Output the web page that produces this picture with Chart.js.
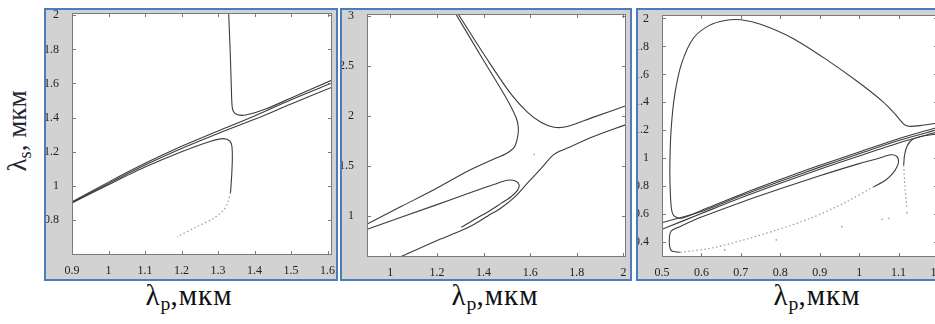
<!DOCTYPE html>
<html>
<head>
<meta charset="utf-8">
<script src="https://cdn.jsdelivr.net/npm/chart.js@4.4.1/dist/chart.umd.min.js"></script>
<style>
  html, body { margin: 0; padding: 0; background: #fff; width: 935px; height: 324px; overflow: hidden; }
  .panel { position: absolute; top: 8px; height: 269px; border: 2px solid #4a7ebb; background: #d2d2d2; }
  .panel canvas { display: block; }
  .xtitle { position: absolute; top: 281px; width: 200px; text-align: center; letter-spacing: 1px;
            font-family: "Liberation Serif", serif; font-size: 29px; line-height: 28px; color: #111; white-space: nowrap; }
  .xtitle sub, .ytitle sub { font-size: 0.68em; vertical-align: -0.25em; letter-spacing: 0; }
  .ytitle { position: absolute; left: 19px; top: 131px; transform: translate(-50%, -50%) rotate(-90deg);
            font-family: "Liberation Serif", serif; font-size: 27px; color: #262633; white-space: nowrap; }
</style>
</head>
<body>
<div class="panel" style="left:44px; width:290px;"><canvas id="c1" width="290" height="269"></canvas></div>
<div class="panel" style="left:340px; width:288px;"><canvas id="c2" width="288" height="269"></canvas></div>
<div class="panel" style="left:636px; width:310px;"><canvas id="c3" width="310" height="269"></canvas></div>
<div class="ytitle">λ<sub>s</sub>, мкм</div>
<div class="xtitle" style="left:89px;">λ<sub>p</sub>,мкм</div>
<div class="xtitle" style="left:395px;">λ<sub>p</sub>,мкм</div>
<div class="xtitle" style="left:717px;">λ<sub>p</sub>,мкм</div>
<script>
// ---- panel 1 ----
const p1XTicks = [0.9, 1, 1.1, 1.2, 1.3, 1.4, 1.5, 1.6];
const p1YTicks = [0.8, 1, 1.2, 1.4, 1.6, 1.8, 2];
const p1UpperX = [1.329, 1.333, 1.336, 1.338, 1.341, 1.352, 1.375, 1.43, 1.5, 1.612];
const p1UpperY = [2.013, 1.80, 1.60, 1.48, 1.44, 1.418, 1.415, 1.45, 1.515, 1.62];
const p1LineX = [0.9, 1.0, 1.1, 1.2, 1.3, 1.4, 1.5, 1.612];
const p1LineAY = [0.907, 1.022, 1.132, 1.232, 1.322, 1.41, 1.505, 1.603];
const p1LineBY = [0.903, 1.014, 1.122, 1.219, 1.307, 1.39, 1.48, 1.578];
const p1LowerX = [0.9, 1.0, 1.1, 1.2, 1.28, 1.315, 1.332, 1.338, 1.339, 1.337, 1.334];
const p1LowerY = [0.9, 1.007, 1.11, 1.2, 1.262, 1.277, 1.263, 1.23, 1.15, 1.05, 0.96];
const p1TailX = [1.334, 1.326, 1.315, 1.288, 1.242, 1.188];
const p1TailY = [0.96, 0.9, 0.858, 0.81, 0.761, 0.702];

// ---- panel 2 ----
const p2XTicks = [1, 1.2, 1.4, 1.6, 1.8, 2];
const p2YTicks = [1, 1.5, 2, 2.5, 3];
const p2LeftX = [1.281, 1.393, 1.496, 1.539, 1.549, 1.546, 1.532, 1.496, 1.447, 1.333, 1.191, 1.05, 0.901];
const p2LeftY = [3.023, 2.585, 2.187, 1.988, 1.889, 1.789, 1.69, 1.623, 1.574, 1.451, 1.268, 1.099, 0.92];
const p2RightX = [1.291, 1.411, 1.518, 1.589, 1.646, 1.702, 1.759, 1.872, 2.011];
const p2RightY = [3.023, 2.585, 2.22, 2.038, 1.939, 1.889, 1.896, 1.99, 2.104];
const p2LoopX = [0.901, 1.191, 1.333, 1.447, 1.503, 1.539, 1.553, 1.546, 1.518, 1.475, 1.418, 1.362, 1.305];
const p2LoopY = [0.867, 1.106, 1.225, 1.318, 1.358, 1.348, 1.308, 1.259, 1.192, 1.126, 1.04, 0.967, 0.887];
const p2LowX = [1.043, 1.191, 1.305, 1.362, 1.418, 1.475, 1.532, 1.589, 1.646, 1.702, 1.759, 1.872, 2.011];
const p2LowY = [0.589, 0.745, 0.854, 0.92, 1.0, 1.08, 1.186, 1.331, 1.474, 1.617, 1.68, 1.796, 1.915];
const p2DotX = [1.617];
const p2DotY = [1.617];

// ---- panel 3 ----
const p3XTicks = [0.5, 0.6, 0.7, 0.8, 0.9, 1, 1.1, 1.2];
const p3YTicks = [0.4, 0.6, 0.8, 1, 1.2, 1.4, 1.6, 1.8, 2];
const p3ArcX = [1.2, 1.16, 1.13, 1.115, 1.105, 1.09, 1.06, 1.0, 0.92, 0.83, 0.75, 0.7, 0.66, 0.62, 0.58, 0.55, 0.532, 0.523, 0.52, 0.521, 0.524, 0.53, 0.55, 0.6, 0.7, 0.8, 0.9, 1.0, 1.1, 1.2];
const p3ArcY = [1.252, 1.236, 1.228, 1.24, 1.27, 1.32, 1.405, 1.54, 1.70, 1.86, 1.958, 1.99, 1.985, 1.95, 1.86, 1.68, 1.45, 1.2, 0.95, 0.76, 0.64, 0.59, 0.572, 0.628, 0.742, 0.848, 0.95, 1.045, 1.14, 1.222];
const p3BandX = [0.5, 0.6, 0.7, 0.8, 0.9, 1.0, 1.1, 1.2];
const p3Band1Y = [0.54, 0.62, 0.732, 0.836, 0.937, 1.032, 1.127, 1.205];
const p3Band2Y = [0.493, 0.606, 0.718, 0.822, 0.922, 1.017, 1.11, 1.19];
const p3InnerX = [0.545, 0.524, 0.519, 0.519, 0.523, 0.54, 0.6, 0.7, 0.8, 0.9, 1.0, 1.05, 1.08, 1.095, 1.1, 1.096, 1.085, 1.065, 1.037];
const p3InnerY = [0.328, 0.34, 0.38, 0.44, 0.48, 0.505, 0.58, 0.685, 0.782, 0.875, 0.962, 1.0, 1.025, 1.015, 0.98, 0.94, 0.89, 0.84, 0.797];
const p3TailX = [1.037, 0.96, 0.876, 0.791, 0.706, 0.621, 0.545];
const p3TailY = [0.797, 0.678, 0.571, 0.488, 0.416, 0.356, 0.328];
const p3ArmX = [1.2, 1.16, 1.135, 1.122, 1.115, 1.113];
const p3ArmY = [1.175, 1.158, 1.135, 1.09, 1.02, 0.95];
const p3ArmTailX = [1.113, 1.116, 1.121];
const p3ArmTailY = [0.95, 0.8, 0.65];
const p3DotX = [1.121, 1.075, 1.058, 0.956, 0.79, 0.659];
const p3DotY = [0.611, 0.571, 0.564, 0.512, 0.417, 0.345];

function curve(xs, ys, dotted) {
    return {
        data: xs.map((x, i) => ({ x: x, y: ys[i] })),
        showLine: true,
        pointRadius: 0,
        borderColor: dotted ? '#9a9a9a' : '#3c3c3c',
        borderWidth: dotted ? 1.2 : 1.1,
        borderDash: dotted ? [1.5, 2.5] : [],
        tension: 0.3,
        fill: false
    };
}

function dots(xs, ys) {
    return {
        data: xs.map((x, i) => ({ x: x, y: ys[i] })),
        showLine: false,
        pointRadius: 0.9,
        pointBorderWidth: 0,
        pointBackgroundColor: '#aaa'
    };
}

// white plot box, dark outline and inward ticks like the original figure
const framePlugin = {
    id: 'frame',
    beforeDraw(chart) {
        const a = chart.chartArea, ctx = chart.ctx;
        ctx.save();
        ctx.fillStyle = '#fff';
        ctx.fillRect(a.left, a.top, a.right - a.left, a.bottom - a.top);
        ctx.restore();
    },
    afterDraw(chart) {
        const a = chart.chartArea, ctx = chart.ctx;
        const sx = chart.scales.x, sy = chart.scales.y;
        ctx.save();
        ctx.strokeStyle = '#7a7a7a';
        ctx.lineWidth = 1;
        ctx.strokeRect(a.left + 0.5, a.top + 0.5, a.right - a.left - 1, a.bottom - a.top - 1);
        ctx.beginPath();
        sx.ticks.forEach(t => {
            const px = Math.round(sx.getPixelForValue(t.value)) + 0.5;
            ctx.moveTo(px, a.bottom); ctx.lineTo(px, a.bottom - 4);
            ctx.moveTo(px, a.top); ctx.lineTo(px, a.top + 4);
        });
        sy.ticks.forEach(t => {
            const py = Math.round(sy.getPixelForValue(t.value)) + 0.5;
            ctx.moveTo(a.left, py); ctx.lineTo(a.left + 4, py);
            ctx.moveTo(a.right, py); ctx.lineTo(a.right - 4, py);
        });
        ctx.stroke();
        ctx.restore();
    }
};

const tickFont = { family: "'Liberation Serif', serif", size: 12 };

function makeChart(id, datasets, xr, yr, xTicks, yTicks, yWidth, xHeight, pad) {
    const ctx = document.getElementById(id).getContext('2d');
    return new Chart(ctx, {
        type: 'scatter',
        data: { datasets: datasets },
        plugins: [framePlugin],
        options: {
            responsive: false,
            animation: false,
            layout: { padding: pad },
            plugins: {
                legend: { display: false },
                tooltip: { enabled: false }
            },
            scales: {
                x: {
                    type: 'linear',
                    min: xr[0],
                    max: xr[1],
                    grid: { display: false },
                    border: { display: false },
                    ticks: {
                        font: tickFont,
                        color: '#222',
                        padding: 1,
                        maxRotation: 0,
                        autoSkip: false,
                        callback: v => String(Math.round(v * 10) / 10)
                    },
                    afterBuildTicks: s => { s.ticks = xTicks.map(v => ({ value: v })); },
                    afterFit: s => { s.height = xHeight; s.paddingLeft = 0; s.paddingRight = 0; }
                },
                y: {
                    type: 'linear',
                    min: yr[0],
                    max: yr[1],
                    grid: { display: false },
                    border: { display: false },
                    ticks: {
                        font: tickFont,
                        color: '#222',
                        padding: 5,
                        autoSkip: false,
                        callback: v => String(Math.round(v * 10) / 10)
                    },
                    afterBuildTicks: s => { s.ticks = yTicks.map(v => ({ value: v })); },
                    afterFit: s => { s.width = yWidth; s.paddingTop = 0; s.paddingBottom = 0; }
                }
            }
        }
    });
}

function drawAll() {
    makeChart('c1', [
        curve(p1UpperX, p1UpperY),
        curve(p1LineX, p1LineAY),
        curve(p1LineX, p1LineBY),
        curve(p1LowerX, p1LowerY),
        curve(p1TailX, p1TailY, true)
    ], [0.9, 1.612], [0.595, 2.013], p1XTicks, p1YTicks, 26, 24, { top: 3, right: 4, bottom: 0, left: 0 });

    makeChart('c2', [
        curve(p2LeftX, p2LeftY),
        curve(p2RightX, p2RightY),
        curve(p2LoopX, p2LoopY),
        curve(p2LowX, p2LowY),
        dots(p2DotX, p2DotY)
    ], [0.9, 2.011], [0.589, 3.023], p2XTicks, p2YTicks, 25, 22, { top: 3, right: 2, bottom: 0, left: 0 });

    makeChart('c3', [
        curve(p3ArcX, p3ArcY),
        curve(p3BandX, p3Band1Y),
        curve(p3BandX, p3Band2Y),
        curve(p3InnerX, p3InnerY),
        curve(p3TailX, p3TailY, true),
        curve(p3ArmX, p3ArmY),
        curve(p3ArmTailX, p3ArmTailY, true),
        dots(p3DotX, p3DotY)
    ], [0.5, 1.2], [0.295, 2.024], p3XTicks, p3YTicks, 24, 22, { top: 5, right: 10, bottom: 0, left: 0 });
}

document.fonts.load('12px "Liberation Serif"').then(drawAll, drawAll);
</script>
</body>
</html>
